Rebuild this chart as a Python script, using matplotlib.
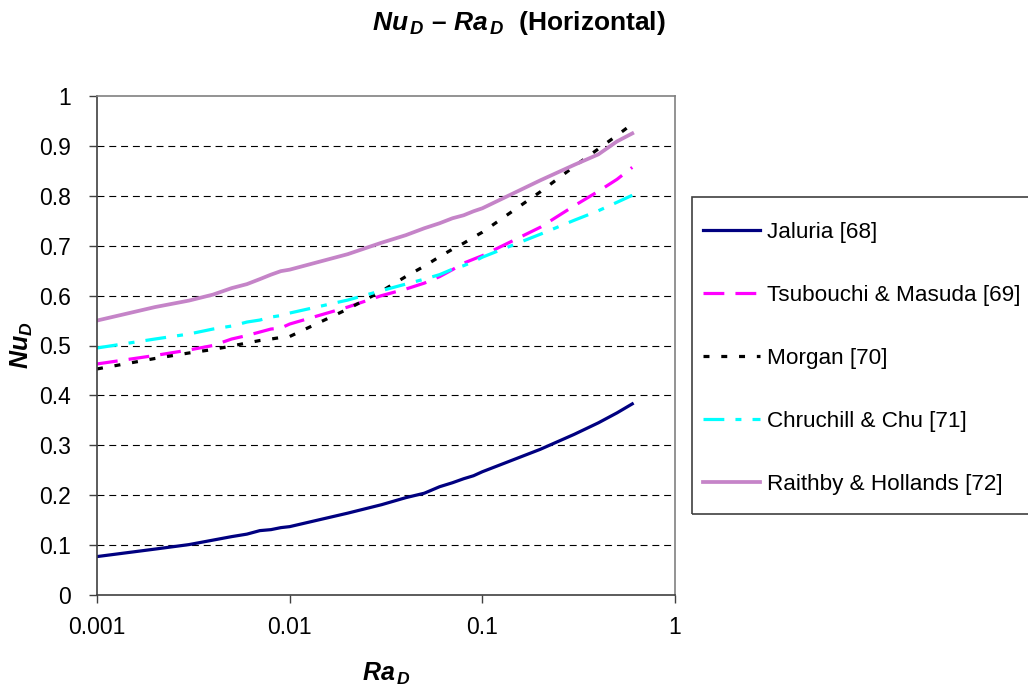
import matplotlib
matplotlib.use("Agg")
import matplotlib.pyplot as plt
from matplotlib.patches import Rectangle
from matplotlib.ticker import FuncFormatter

plt.rcParams['font.family'] = ['Liberation Sans', 'DejaVu Sans']
plt.rcParams['mathtext.fontset'] = 'custom'
plt.rcParams['mathtext.rm'] = 'Liberation Sans'
plt.rcParams['mathtext.it'] = 'Liberation Sans:italic'
plt.rcParams['mathtext.bf'] = 'Liberation Sans:bold'
plt.rcParams['mathtext.bfit'] = 'Liberation Sans:bold:italic'
plt.rcParams['lines.scale_dashes'] = False

# Rayleigh numbers (based on diameter)
ra_d = [0.001, 0.002, 0.003, 0.004, 0.005, 0.006, 0.007, 0.008, 0.009,
        0.01, 0.02, 0.03, 0.04, 0.05, 0.06, 0.07, 0.08, 0.09,
        0.1, 0.2, 0.3, 0.4, 0.5, 0.6]

# Nusselt numbers for each correlation
jaluria = [0.077, 0.092, 0.101, 0.110, 0.117, 0.122, 0.129, 0.131, 0.135,
           0.137, 0.164, 0.181, 0.195, 0.204, 0.217, 0.225, 0.233, 0.239,
           0.247, 0.292, 0.322, 0.345, 0.365, 0.383]
tsubouchi = [0.463, 0.480, 0.491, 0.500, 0.513, 0.520, 0.527, 0.533, 0.535,
             0.543, 0.577, 0.600, 0.613, 0.625, 0.638, 0.652, 0.665, 0.673,
             0.680, 0.737, 0.780, 0.809, 0.833, 0.857]
morgan = [0.453, 0.474, 0.485, 0.492, 0.499, 0.505, 0.510, 0.513, 0.516,
          0.518, 0.573, 0.609, 0.638, 0.659, 0.678, 0.693, 0.705, 0.717,
          0.727, 0.808, 0.859, 0.894, 0.921, 0.944]
churchill = [0.495, 0.513, 0.523, 0.533, 0.539, 0.547, 0.551, 0.557, 0.560,
             0.565, 0.591, 0.610, 0.623, 0.633, 0.642, 0.653, 0.660, 0.668,
             0.677, 0.723, 0.751, 0.770, 0.787, 0.801]
raithby = [0.550, 0.577, 0.590, 0.602, 0.615, 0.623, 0.633, 0.642, 0.649,
           0.652, 0.683, 0.706, 0.721, 0.735, 0.745, 0.755, 0.761, 0.769,
           0.775, 0.831, 0.862, 0.883, 0.909, 0.925]

labels = ['Jaluria [68]', 'Tsubouchi & Masuda [69]', 'Morgan [70]',
          'Chruchill & Chu [71]', 'Raithby & Hollands [72]']

W, H = 1028, 688
fig = plt.figure(figsize=(W / 100, H / 100), dpi=100)
ax = fig.add_axes([97 / W, 1 - 595 / H, 578 / W, 499 / H])

ax.plot(ra_d, jaluria, color='#000080', lw=2.3, label=labels[0])
ax.plot(ra_d, tsubouchi, color='#FF00FF', lw=2.3,
        linestyle=(0, (15, 8)), label=labels[1])
ax.plot(ra_d, morgan, color='black', lw=2.3,
        linestyle=(0, (4.3, 8.5)), label=labels[2])
ax.plot(ra_d, churchill, color='#00FFFF', lw=2.3,
        linestyle=(0, (15, 8, 4.3, 8)), label=labels[3])
ax.plot(ra_d, raithby, color='#C584C8', lw=2.7, label=labels[4])

ax.set_xscale('log')
ax.set_xlim(0.001, 1)
ax.set_ylim(0, 1)
ax.set_xticks([0.001, 0.01, 0.1, 1])
ax.set_xticklabels(['0.001', '0.01', '0.1', '1'])
ax.xaxis.set_minor_locator(matplotlib.ticker.NullLocator())
ax.set_yticks([i / 10 for i in range(11)])
ax.yaxis.set_major_formatter(FuncFormatter(lambda v, _: f"{v:g}"))
ax.tick_params(labelsize=16.5, length=6, width=1, color='#404040', pad=9)
ax.tick_params(axis='y', pad=13)

for y in [i / 10 for i in range(1, 10)]:
    ax.axhline(y, color='black', lw=0.8, linestyle=(0, (5, 3.5)), zorder=0)

ax.spines['left'].set_color('#404040')
ax.spines['bottom'].set_color('#404040')
ax.spines['top'].set_color('#808080')
ax.spines['right'].set_color('#808080')
for s in ax.spines.values():
    s.set_linewidth(1.2)

ax.set_xlabel(r'$\mathbfit{Ra}_{\,\mathbfit{D}}$', fontsize=18, labelpad=16)
ax.set_ylabel(r'$\mathbfit{Nu}_{\mathbfit{D}}$', fontsize=18, labelpad=3)
fig.text(0.505, 0.966,
         r'$\mathbfit{Nu}_{\,\mathbfit{D}}$' + ' \u2013 '
         + r'$\mathbfit{Ra}_{\,\mathbfit{D}}$' + '  (Horizontal)',
         fontsize=19, fontweight='bold', ha='center', va='center')

# legend box runs off the right edge of the figure
fig.patches.append(Rectangle((692 / W, 1 - 514 / H), 345 / W, 317 / H,
                             transform=fig.transFigure, fill=False,
                             edgecolor='#404040', lw=1.2))
leg = ax.legend(loc='upper left', bbox_to_anchor=(703 / W, 1 - 222 / H),
                bbox_transform=fig.transFigure, fontsize=16.2, frameon=False,
                borderaxespad=0, borderpad=0,
                labelspacing=1.865, handlelength=2.55, handletextpad=0.3)

fig.savefig('out.png', dpi=100)
